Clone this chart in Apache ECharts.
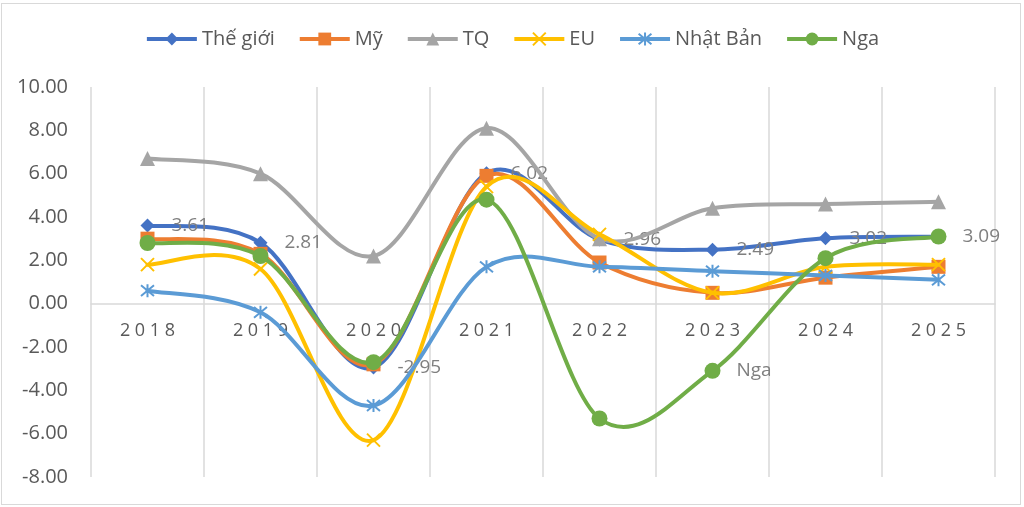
<!DOCTYPE html>
<html>
<head>
<meta charset="utf-8">
<script src="https://cdn.jsdelivr.net/npm/echarts@6/dist/echarts.min.js"></script>
<style>
  html, body { margin: 0; padding: 0; background: #fff; }
  #wrap { position: relative; width: 1024px; height: 507px; }
  #main { width: 1024px; height: 507px; }
  #frame { position: absolute; left: 1px; top: 3px; width: 1018px; height: 500px;
           border: 1.5px solid #d9d9d9; pointer-events: none; }
</style>
</head>
<body>
<div id="wrap">
  <div id="main"></div>
  <div id="frame"></div>
</div>
<script>
// số liệu tăng trưởng GDP (%)
var years = ['2018', '2019', '2020', '2021', '2022', '2023', '2024', '2025'];
var theGioi = [3.61, 2.81, -2.95, 6.02, 2.96, 2.49, 3.02, 3.09];
var my      = [3.0, 2.3, -2.8, 5.9, 1.9, 0.5, 1.2, 1.7];
var tq      = [6.7, 6.0, 2.2, 8.1, 3.0, 4.4, 4.6, 4.7];
var eu      = [1.8, 1.6, -6.3, 5.4, 3.2, 0.5, 1.7, 1.8];
var nhatBan = [0.6, -0.4, -4.7, 1.7, 1.7, 1.5, 1.3, 1.1];
var nga     = [2.8, 2.2, -2.7, 4.8, -5.3, -3.1, 2.1, 3.1];
var yTicks = { min: -8, max: 10, step: 2 };

var FONT = '"Open Sans", "Noto Sans", sans-serif';
var xPath = 'path://M0,0L10,10M10,0L0,10';
var starPath = 'path://M0,0L10,10M10,0L0,10M5,-1L5,11';
var LW = 4;

const chart = echarts.init(document.getElementById('main'), null, { renderer: 'canvas' });

// đường cong kiểu Excel (Catmull-Rom, có vượt đỉnh), vẽ từng đoạn qua api.coord
function curveSeries(name, vals, color, z) {
  return {
    name: name + '_curve',
    type: 'custom',
    z: z,
    silent: true,
    data: vals.map(function (v, i) { return [i, v]; }),
    encode: { x: 0, y: 1 },
    renderItem: function (params, api) {
      var i = params.dataIndex;
      var n = vals.length;
      if (i >= n - 1) return null;
      var p = function (k) {
        k = Math.max(0, Math.min(n - 1, k));
        return api.coord([k, vals[k]]);
      };
      var p0 = p(i - 1), p1 = p(i), p2 = p(i + 1), p3 = p(i + 2);
      return {
        type: 'bezierCurve',
        shape: {
          x1: p1[0], y1: p1[1], x2: p2[0], y2: p2[1],
          cpx1: p1[0] + (p2[0] - p0[0]) / 6, cpy1: p1[1] + (p2[1] - p0[1]) / 6,
          cpx2: p2[0] - (p3[0] - p1[0]) / 6, cpy2: p2[1] - (p3[1] - p1[1]) / 6
        },
        style: { stroke: color, lineWidth: LW, fill: null, lineCap: 'round' }
      };
    }
  };
}

function markSeries(name, data, color, symbol, size, stroke, z) {
  return {
    name: name,
    type: 'line',
    z: z,
    data: data,
    symbol: symbol,
    symbolSize: size,
    showAllSymbol: true,
    lineStyle: { color: color, width: LW, opacity: 0 },
    itemStyle: stroke
      ? { color: 'none', borderColor: color, borderWidth: 2 }
      : { color: color, borderColor: color, borderWidth: 0 },
    emphasis: { disabled: true }
  };
}

var labelStyle = { color: '#7f7f7f', fontSize: 19, fontFamily: FONT };

var sTG = markSeries('Thế giới', theGioi, '#4472C4', 'diamond', 14, false, 3);
sTG.label = Object.assign({
  show: true, position: 'right', distance: 17,
  formatter: function (p) { return p.value.toFixed(2); }
}, labelStyle);

// nhãn tên "Nga" ở năm 2023
var ngaData = nga.map(function (v, i) {
  if (years[i] == '2023') {
    return { value: v, label: Object.assign({ show: true, position: 'right', distance: 16, formatter: 'Nga' }, labelStyle) };
  }
  return v;
});

var option = {
  backgroundColor: '#fff',
  animation: false,
  textStyle: { fontFamily: FONT },
  legend: {
    top: 24,
    left: 'center',
    itemWidth: 50,
    itemHeight: 16,
    itemGap: 23,
    lineStyle: { width: LW, opacity: 1 },
    textStyle: { color: '#595959', fontSize: 20, fontFamily: FONT },
    data: ['Thế giới', 'Mỹ', 'TQ', 'EU', 'Nhật Bản', 'Nga']
  },
  grid: { left: 91, right: 29, top: 87, bottom: 30, containLabel: false, outerBoundsMode: 'none' },
  xAxis: {
    type: 'category',
    data: years,
    boundaryGap: true,
    axisLine: { onZero: true, lineStyle: { color: '#d9d9d9', width: 1.5 } },
    axisTick: { show: false },
    splitLine: { show: true, interval: 0, lineStyle: { color: '#d9d9d9', width: 1.5 } },
    axisLabel: {
      margin: -155, color: '#595959', fontSize: 18, fontFamily: FONT,
      formatter: function (v) { return v.split('').join(' '); }
    }
  },
  yAxis: {
    type: 'value',
    min: yTicks.min,
    max: yTicks.max,
    interval: yTicks.step,
    axisLine: { show: false },
    axisTick: { show: false },
    splitLine: { show: false },
    axisLabel: {
      margin: 23, color: '#595959', fontSize: 20, fontFamily: FONT,
      formatter: function (v) { return v.toFixed(2); }
    }
  },
  series: [
    curveSeries('Thế giới', theGioi, '#4472C4', 2),
    sTG,
    curveSeries('Mỹ', my, '#ED7D31', 4),
    markSeries('Mỹ', my, '#ED7D31', 'rect', 14, false, 5),
    curveSeries('TQ', tq, '#A5A5A5', 6),
    markSeries('TQ', tq, '#A5A5A5', 'triangle', 15, false, 7),
    curveSeries('EU', eu, '#FFC000', 8),
    markSeries('EU', eu, '#FFC000', xPath, 13, true, 9),
    curveSeries('Nhật Bản', nhatBan, '#5B9BD5', 10),
    markSeries('Nhật Bản', nhatBan, '#5B9BD5', starPath, 13, true, 11),
    curveSeries('Nga', nga, '#70AD47', 12),
    markSeries('Nga', ngaData, '#70AD47', 'circle', 16, false, 13)
  ]
};

chart.setOption(option);
</script>
</body>
</html>
